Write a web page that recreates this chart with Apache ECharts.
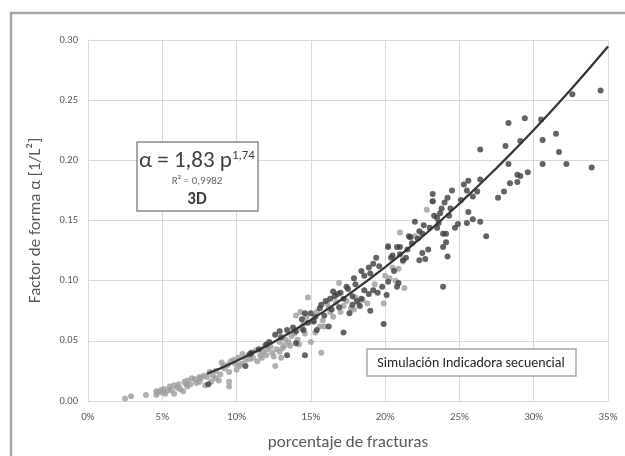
<!DOCTYPE html>
<html>
<head>
<meta charset="utf-8">
<script src="https://cdn.jsdelivr.net/npm/echarts@6/dist/echarts.min.js"></script>
<style>html,body{margin:0;padding:0;background:#fff}#c{width:625px;height:456px}</style>
</head>
<body>
<div id="c"></div>
<script>
// x in %, y = alpha
const xTicks = ['0%','5%','10%','15%','20%','25%','30%','35%'];
const yTicks = ['0.00','0.05','0.10','0.15','0.20','0.25','0.30'];

const darkPoints = [
[34.5,0.258],[33.9,0.194],[32.6,0.255],[32.2,0.197],[31.7,0.207],[31.5,0.222],[30.6,0.217],[30.6,0.197],
[30.5,0.234],[29.4,0.235],[29.1,0.216],[29.6,0.190],[29.1,0.187],[28.9,0.188],[28.9,0.182],[28.4,0.181],
[28.3,0.231],[28.3,0.197],[28.1,0.212],[28.0,0.174],[27.6,0.169],[26.8,0.137],[26.4,0.209],[26.4,0.184],
[26.4,0.149],[25.9,0.151],[25.6,0.157],[25.5,0.148],[25.6,0.183],[25.3,0.180],[25.5,0.175],[26.2,0.174],
[25.9,0.170],[24.9,0.147],[24.7,0.144],[25.1,0.167],[24.5,0.175],[24.2,0.169],[24.3,0.154],[24.0,0.165],
[23.8,0.160],[23.7,0.156],[23.5,0.152],[23.2,0.172],[23.3,0.154],[23.2,0.166],[23.0,0.144],[23.5,0.144],
[23.9,0.139],[24.1,0.139],[23.9,0.128],[24.1,0.132],[24.2,0.120],[23.9,0.095],[22.9,0.126],[22.5,0.123],
[22.7,0.118],[22.3,0.117],[22.0,0.149],[22.3,0.141],[22.5,0.139],[21.6,0.137],[21.7,0.136],[21.4,0.119],
[21.2,0.117],[21.0,0.128],[20.8,0.128],[20.4,0.119],[20.2,0.128],[20.9,0.098],[20.8,0.095],[20.2,0.099],
[19.8,0.095],[20.1,0.088],[19.9,0.064],[19.4,0.119],[19.2,0.114],[18.9,0.111],[18.4,0.108],[19.2,0.092],
[18.9,0.089],[18.6,0.092],[19.0,0.075],[18.4,0.085],[18.1,0.083],[17.8,0.087],[17.9,0.102],[17.4,0.095],
[17.6,0.073],[17.2,0.085],[17.2,0.057],[16.8,0.089],[16.5,0.091],[16.3,0.085],[16.4,0.076],[15.7,0.080],
[15.6,0.077],[16.2,0.062],[15.4,0.059],[15.3,0.070],[15.0,0.073],[14.6,0.073],[14.4,0.068],[14.5,0.059],
[14.0,0.058],[14.6,0.038],[14.0,0.048],[13.4,0.038],[13.4,0.059],[12.9,0.058],[12.6,0.055],[12.2,0.049],
[10.9,0.039],[10.6,0.029],[8.1,0.014],[16.0,0.083],[16.6,0.087],[17.0,0.090],[17.5,0.093],[18.0,0.097],
[18.6,0.104],[19.0,0.106],[19.6,0.112],[20.5,0.121],[21.0,0.122],[21.8,0.131],[22.2,0.135],[15.2,0.066],
[14.8,0.065],[13.8,0.061],[13.0,0.053],[12.0,0.047],[11.5,0.043],[11.0,0.040],[15.9,0.071],[17.8,0.080],
[18.3,0.079],[22.6,0.146],[23.6,0.148],[24.4,0.160],[21.5,0.126],[20.6,0.108],[19.5,0.090],[16.9,0.078]
];

const lightPoints = [
[2.5,0.002],[2.9,0.004],[3.9,0.005],[4.6,0.008],[4.9,0.009],[4.6,0.005],[5.1,0.010],[5.2,0.006],
[5.5,0.012],[5.8,0.013],[5.8,0.006],[6.1,0.014],[6.2,0.010],[6.5,0.016],[6.7,0.017],[6.7,0.012],
[7.0,0.019],[7.3,0.015],[7.5,0.020],[7.8,0.021],[7.5,0.016],[8.2,0.024],[8.6,0.025],[8.6,0.019],
[8.3,0.016],[9.1,0.029],[9.4,0.030],[9.5,0.024],[9.5,0.016],[9.5,0.012],[9.8,0.034],[10.1,0.036],
[10.4,0.039],[10.2,0.029],[10.8,0.038],[11.3,0.042],[11.6,0.038],[11.9,0.046],[12.1,0.043],[12.4,0.040],
[12.6,0.029],[12.9,0.049],[13.2,0.046],[13.3,0.051],[13.7,0.054],[14.1,0.051],[14.2,0.047],[14.5,0.064],
[14.7,0.070],[14.8,0.086],[15.0,0.049],[15.3,0.057],[15.6,0.062],[15.7,0.040],[15.9,0.062],[16.1,0.081],
[16.5,0.070],[16.9,0.098],[17.2,0.079],[17.7,0.077],[18.2,0.081],[18.8,0.081],[19.9,0.081],[20.2,0.129],
[20.5,0.111],[21.0,0.140],[21.3,0.094],[22.8,0.159],[23.2,0.166],[22.0,0.137],[5.0,0.007],[5.4,0.009],
[6.0,0.011],[6.9,0.014],[7.2,0.018],[8.0,0.020],[8.9,0.022],[9.2,0.027],[9.9,0.031],[10.6,0.034],
[11.1,0.036],[11.8,0.041],[12.3,0.045],[12.7,0.043],[13.5,0.049],[13.9,0.056],[14.4,0.060],[15.1,0.066],
[16.3,0.074],[16.7,0.082],[17.4,0.083],[18.0,0.086],[19.3,0.097],[20.0,0.104],[20.7,0.100],[21.2,0.116],
[11.4,0.033],[12.9,0.041],[10.0,0.026],[8.8,0.017],[6.4,0.008],[7.9,0.013],[9.0,0.032],[9.6,0.033],
[10.3,0.031],[10.9,0.035],[11.7,0.036],[12.5,0.037],[13.1,0.044],[13.6,0.046],[14.0,0.071],[14.3,0.074],
[15.4,0.074],[15.8,0.067],[16.2,0.078],[17.0,0.074],[17.9,0.076],[18.5,0.084],[20.3,0.102],[20.9,0.110],
[8.4,0.021],[7.6,0.019],[6.6,0.014],[5.6,0.009],[4.7,0.007],[12.0,0.038],[13.0,0.036],[14.6,0.056]
];

// trendline
const trendPoints = [
[8,0.0226],[10,0.0333],[12.5,0.0491],[15,0.0674],[17.5,0.0882],[20,0.1112],
[22.5,0.1365],[25,0.1640],[27.5,0.1936],[30,0.2252],[32.5,0.2589],[35,0.2946]
];

const FONT = 'Carlito, "Liberation Sans Narrow", "Liberation Sans", sans-serif';
const chart = echarts.init(document.getElementById('c'), null, {renderer:'canvas'});
chart.setOption({
  animation:false,
  backgroundColor:'#fff',
  textStyle:{fontFamily:FONT},
  grid:{left:88,right:17,top:40,bottom:50,containLabel:false},
  xAxis:{
    type:'value',min:0,max:35,interval:5,
    name:'porcentaje de fracturas',nameLocation:'middle',nameGap:33,
    nameTextStyle:{fontSize:17,color:'#595959',fontFamily:FONT},
    axisLine:{show:true,lineStyle:{color:'#d9d9d9'}},
    axisTick:{show:false},
    axisLabel:{fontSize:11,color:'#595959',margin:11,formatter:(v)=>xTicks[Math.round(v/5)]},
    splitLine:{show:true,lineStyle:{color:'#d9d9d9'}}
  },
  yAxis:{
    type:'value',min:0,max:0.30,interval:0.05,
    name:'Factor de forma α [1/L²]',nameLocation:'middle',nameGap:44,
    nameTextStyle:{fontSize:17,color:'#595959',fontFamily:FONT},
    axisLine:{show:true,lineStyle:{color:'#d9d9d9'}},
    axisTick:{show:false},
    axisLabel:{fontSize:10.5,color:'#595959',margin:10,formatter:(v)=>yTicks[Math.round(v/0.05)]},
    splitLine:{show:true,lineStyle:{color:'#d9d9d9'}}
  },
  series:[
    {type:'scatter',data:lightPoints,symbolSize:6,itemStyle:{color:'#9c9c9c'},z:2},
    {type:'scatter',data:darkPoints,symbolSize:6,itemStyle:{color:'#3d3d3d'},z:3},
    {type:'line',data:trendPoints,smooth:true,showSymbol:false,lineStyle:{color:'#333',width:2.2},z:4}
  ],
  graphic:[
    {type:'rect',shape:{x:11,y:13,width:700,height:600},style:{fill:'none',stroke:'#a6a6a6',lineWidth:2.5},z:0,silent:true},
    {type:'rect',shape:{x:137,y:142,width:121,height:69},style:{fill:'#fff',stroke:'#8c8c8c',lineWidth:1.5},z:10},
    {type:'text',x:197,y:161,z:11,style:{
      text:'{a|α = 1,83 p}{s|1,74}',align:'center',verticalAlign:'middle',
      rich:{a:{fontSize:23,fill:'#404040',fontFamily:FONT},s:{fontSize:13,fill:'#404040',fontFamily:FONT,verticalAlign:'top',padding:[0,0,10,0]}}
    }},
    {type:'text',x:197,y:181,z:11,style:{text:'R² = 0,9982',align:'center',verticalAlign:'middle',fontSize:11,fill:'#666',fontFamily:FONT}},
    {type:'text',x:197,y:200,z:11,style:{text:'3D',align:'center',verticalAlign:'middle',fontSize:17,fontWeight:'bold',fill:'#404040',fontFamily:FONT}},
    {type:'rect',shape:{x:367,y:349,width:209,height:27},style:{fill:'#fff',stroke:'#a6a6a6',lineWidth:1.5},z:10},
    {type:'text',x:471,y:363,z:11,style:{text:'Simulación Indicadora secuencial',align:'center',verticalAlign:'middle',fontSize:14,fill:'#262626',fontFamily:FONT}}
  ]
});
</script>
</body>
</html>
